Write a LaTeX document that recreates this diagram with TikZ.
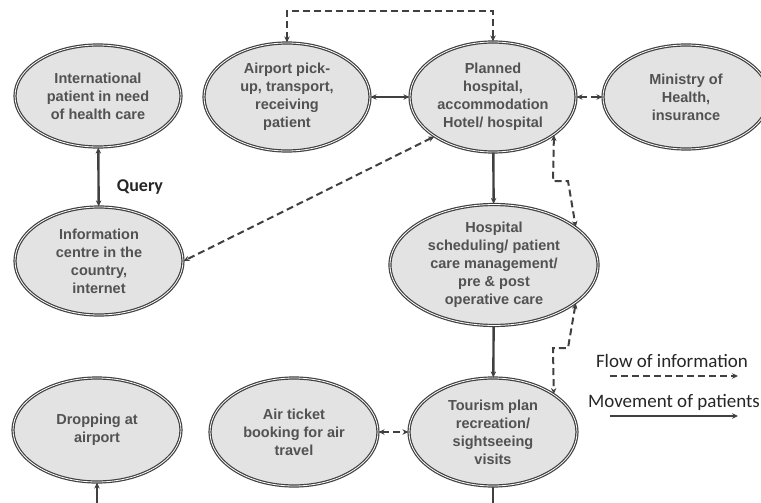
\documentclass[tikz,border=0pt]{standalone}
\usepackage{fontspec}
\setmainfont{Liberation Sans}
\newfontfamily\legfont{Carlito}
\usetikzlibrary{shapes.geometric,arrows.meta}
\begin{document}
\begin{tikzpicture}[x=1pt,y=-1pt,
  bub/.style={ellipse, draw=black!75, line width=1.2pt, double=white, double distance=0.8pt,
    fill=black!11, inner sep=0pt, align=center,
    font=\bfseries\fontsize{14.5}{18}\selectfont, text=black!68},
  tip/.style={-{Stealth[length=6pt,width=5.5pt]}},
  both/.style={{Stealth[length=6pt,width=5.5pt]}-{Stealth[length=6pt,width=5.5pt]}},
  mov/.style={draw=black!75, line width=2.4pt},
  info/.style={draw=black!75, line width=2pt, dash pattern=on 7pt off 4pt},
  leg/.style={font=\legfont\fontsize{19}{21}\selectfont, text=black!85, inner sep=0pt},
  legmov/.style={draw=black!75, line width=1.3pt},
  leginfo/.style={draw=black!75, line width=2pt, dash pattern=on 7pt off 4pt}
]
\useasboundingbox (0,0) rectangle (761,503);

% ellipses
\node[bub, minimum width=166pt, minimum height=102pt] (intl) at (98,96)
  {International\\patient in need\\of health care};
\node[bub, minimum width=166pt, minimum height=108pt] (airport) at (287,97)
  {Airport pick-\\up, transport,\\receiving\\patient};
\node[bub, minimum width=166pt, minimum height=110pt] (planned) at (493,97)
  {Planned\\hospital,\\accommodation\\Hotel/ hospital};
\node[bub, minimum width=166pt, minimum height=104pt] (ministry) at (686,97)
  {Ministry of\\Health,\\insurance};
\node[bub, minimum width=168pt, minimum height=108pt] (infoc) at (99,261)
  {Information\\centre in the\\country,\\internet};
\node[bub, minimum width=208pt, minimum height=102pt] (sched) at (494,265)
  {Hospital\\scheduling/ patient\\care management/\\pre \& post\\operative care};
\node[bub, minimum width=168pt, minimum height=104pt] (drop) at (97,430)
  {Dropping at\\airport};
\node[bub, minimum width=168pt, minimum height=108pt] (ticket) at (294,432)
  {Air ticket\\booking for air\\travel};
\node[bub, minimum width=168pt, minimum height=108pt] (tour) at (493,432)
  {Tourism plan\\recreation/\\sightseeing\\visits};

% movement of patients
\draw[mov, both] (intl) -- (infoc);
\node[font=\legfont\bfseries\fontsize{18}{20}\selectfont, text=black!85] (query) at (140,187) {Query};
\draw[mov, both] (airport) -- (planned);
\draw[mov, tip] (planned) -- (sched);
\draw[mov, tip] (sched) -- (tour);
\coordinate (dropin) at (97,506);
\draw[mov, tip] (dropin) -- (drop);
\coordinate (tourout) at (493,506);
\draw[mov] (tour) -- (tourout);

% flow of information
\coordinate (topturn) at (390,11);
\draw[info, both] (airport.north) |- (topturn) -| (planned.north);
\draw[info, both] (planned) -- (ministry);
\draw[info, both] (planned.214) -- (infoc.east);
\coordinate (pa) at (553,181);
\coordinate (pb) at (568,181);
\draw[info, both] (planned.328) -- (pa) -- (pb) -- (sched.25);
\coordinate (sa) at (568,348);
\coordinate (sb) at (553,348);
\draw[info, both] (sched.335) -- (sa) -- (sb) -- (tour.32);
\draw[info, both] (ticket) -- (tour);

% legend
\node[leg] (leginfo) at (672,361) {Flow of information};
\coordinate (lia) at (610,376);
\coordinate (lib) at (738,376);
\draw[leginfo, tip] (lia) -- (lib);
\node[leg] (legmov) at (674,402) {Movement of patients};
\coordinate (lma) at (610,416);
\coordinate (lmb) at (738,416);
\draw[legmov, tip] (lma) -- (lmb);
\end{tikzpicture}
\end{document}
